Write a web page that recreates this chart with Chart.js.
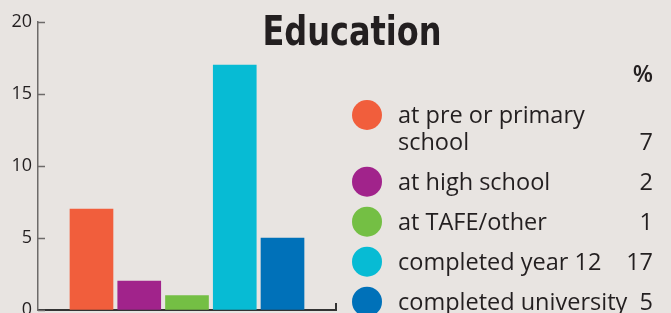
<!DOCTYPE html>
<html>
<head>
<meta charset="utf-8">
<script src="https://cdn.jsdelivr.net/npm/chart.js@4.4.1/dist/chart.umd.min.js"></script>
<style>
  html, body { margin: 0; padding: 0; background: #e8e4e1; }
  canvas { display: block; }
</style>
</head>
<body>
<canvas id="myChart" width="671" height="313"></canvas>
<script>
var chartTitle = 'Education';
var categories = ['at pre or primary school', 'at high school', 'at TAFE/other', 'completed year 12', 'completed university'];
var legendLines = [['at pre or primary', 'school'], ['at high school'], ['at TAFE/other'], ['completed year 12'], ['completed university']];
var values = [7, 2, 1, 17, 5];
var colours = ['#f15e3c', '#a1238b', '#74bf44', '#07bbd4', '#0071b9'];
var yTicks = [0, 5, 10, 15, 20];
var unitLabel = '%';

var textColour = '#231f20';
var legendFont = '23.5px "Open Sans"';

// title + legend with value column, drawn on the canvas
var sidePlugin = {
    id: 'side',
    afterDraw: function(chart) {
        var ctx = chart.ctx;
        var area = chart.chartArea;
        var yScale = chart.scales.y;
        ctx.save();

        // short tick marks on the inside of the y axis
        ctx.strokeStyle = '#6d6a69';
        ctx.lineWidth = 1.5;
        yScale.ticks.forEach(function(t) {
            var py = Math.round(yScale.getPixelForValue(t.value)) + 0.5;
            ctx.beginPath();
            ctx.moveTo(area.left, py);
            ctx.lineTo(area.left + 7, py);
            ctx.stroke();
        });
        // end tick of the x axis
        ctx.strokeStyle = '#333';
        ctx.lineWidth = 2;
        ctx.beginPath();
        ctx.moveTo(area.right, area.bottom + 1);
        ctx.lineTo(area.right, area.bottom - 7);
        ctx.stroke();

        // title
        ctx.fillStyle = textColour;
        ctx.font = 'bold 40px "DejaVu Sans"';
        var w = ctx.measureText(chartTitle).width;
        ctx.translate(352, 45);
        ctx.scale(179 / w, 1);
        ctx.textAlign = 'center';
        ctx.textBaseline = 'alphabetic';
        ctx.fillText(chartTitle, 0, 0);
        ctx.setTransform(1, 0, 0, 1, 0, 0);

        // legend
        ctx.font = '600 ' + legendFont;
        ctx.textAlign = 'right';
        ctx.fillText(unitLabel, 653, 82);
        ctx.font = legendFont;
        var centres = [115, 181.7, 221.7, 261.7, 301.7];
        legendLines.forEach(function(lines, i) {
            var cy = centres[i];
            ctx.fillStyle = colours[i];
            ctx.beginPath();
            ctx.arc(367, cy, 15, 0, Math.PI * 2);
            ctx.fill();
            ctx.fillStyle = textColour;
            ctx.textAlign = 'left';
            lines.forEach(function(line, j) {
                ctx.fillText(line, 398, cy + 8.3 + j * 27);
            });
            ctx.textAlign = 'right';
            ctx.fillText(String(values[i]), 653, cy + 8.3 + (lines.length - 1) * 27);
        });
        ctx.restore();
    }
};

function draw() {
    const ctx = document.getElementById('myChart').getContext('2d');
    const myChart = new Chart(ctx, {
        type: 'bar',
        data: {
            labels: categories,
            datasets: [{
                data: values.map(function(v, i) { return {x: i, y: v}; }),
                backgroundColor: colours,
                barThickness: 43,
                borderWidth: 0
            }]
        },
        options: {
            responsive: false,
            animation: false,
            layout: { autoPadding: false, padding: { left: 0, right: 335, top: 22, bottom: 0 } },
            plugins: {
                legend: { display: false },
                title: { display: false },
                tooltip: { enabled: false }
            },
            scales: {
                x: {
                    type: 'linear',
                    offset: false,
                    min: -1.12,
                    max: 5.12,
                    ticks: { display: false },
                    grid: { display: false, drawTicks: false },
                    border: { color: '#333', width: 2 },
                    afterFit: function(s) { s.height = 3; }
                },
                y: {
                    min: 0,
                    max: 20,
                    afterBuildTicks: function(s) { s.ticks = yTicks.map(function(v) { return {value: v}; }); },
                    ticks: { color: textColour, font: { family: 'Open Sans', size: 18 }, padding: 6 },
                    grid: { drawOnChartArea: false, drawTicks: false },
                    border: { color: '#6d6a69', width: 1.5 },
                    afterFit: function(s) {
                        s.width = 38;
                        s.paddingTop = 0;
                        s.paddingBottom = 0;
                    }
                }
            }
        },
        plugins: [sidePlugin]
    });
}

Promise.all([
    document.fonts.load(legendFont),
    document.fonts.load('600 ' + legendFont),
    document.fonts.load('18px "Open Sans"'),
    document.fonts.load('bold 40px "DejaVu Sans"')
]).then(draw, draw);
</script>
</body>
</html>
